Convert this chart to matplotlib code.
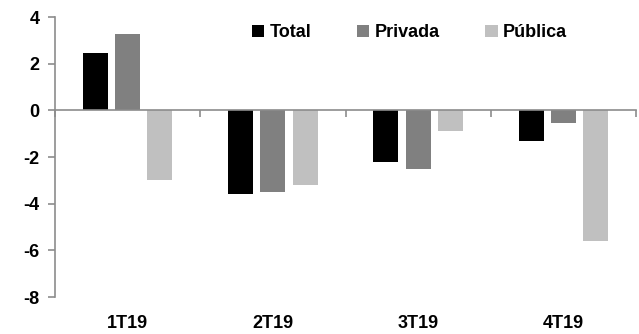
import numpy as np
import matplotlib.pyplot as plt
from matplotlib import transforms

categories = ["1T19", "2T19", "3T19", "4T19"]
total = [2.45, -3.58, -2.2, -1.32]
privada = [3.28, -3.52, -2.5, -0.53]
publica = [-3.0, -3.18, -0.9, -5.62]
yticks = [-8, -6, -4, -2, 0, 2, 4]

plt.rcParams["font.family"] = ["Liberation Sans Narrow", "Liberation Sans", "DejaVu Sans"]
plt.rcParams["font.weight"] = "bold"

fig = plt.figure(figsize=(6.39, 3.34), dpi=100)
ax = fig.add_axes([55 / 639, 37 / 334, 581 / 639, 280 / 334])

x = np.arange(len(categories))
w = 0.172
step = 0.222
ax.bar(x - step, total, w, color="black", label="Total")
ax.bar(x, privada, w, color="#808080", label="Privada")
ax.bar(x + step, publica, w, color="#c0c0c0", label="Pública")

ax.set_xlim(-0.5, len(categories) - 0.5)
ax.set_ylim(-8, 4)
ax.set_yticks(yticks)
ax.set_yticklabels([str(v) for v in yticks], fontsize=13, fontweight="bold")

for s in ["top", "right"]:
    ax.spines[s].set_visible(False)
ax.spines["left"].set_color("#8c8c8c")
ax.spines["bottom"].set_color("#8c8c8c")
ax.spines["bottom"].set_position(("data", 0))
ax.spines["left"].set_linewidth(1.2)
ax.spines["bottom"].set_linewidth(1.2)

ax.set_xticks(np.arange(len(categories) + 1) - 0.5)
ax.set_xticklabels([])
ax.tick_params(axis="x", direction="out", length=5, color="#8c8c8c", width=1.2)
ax.tick_params(axis="y", direction="out", length=5, color="#8c8c8c", width=1.2, pad=6)

trans = transforms.blended_transform_factory(ax.transData, ax.transAxes)
for xi, c in zip(x, categories):
    ax.text(xi, -0.095, c, transform=trans, ha="center", va="center",
            fontsize=13, fontweight="bold")

leg = ax.legend(loc="center", bbox_to_anchor=(0.61, 0.943), ncol=3, frameon=False,
                handlelength=0.7, handleheight=0.7, handletextpad=0.3,
                columnspacing=2.5, prop={"size": 13, "weight": "bold"})

fig.savefig("out.png", dpi=100)
